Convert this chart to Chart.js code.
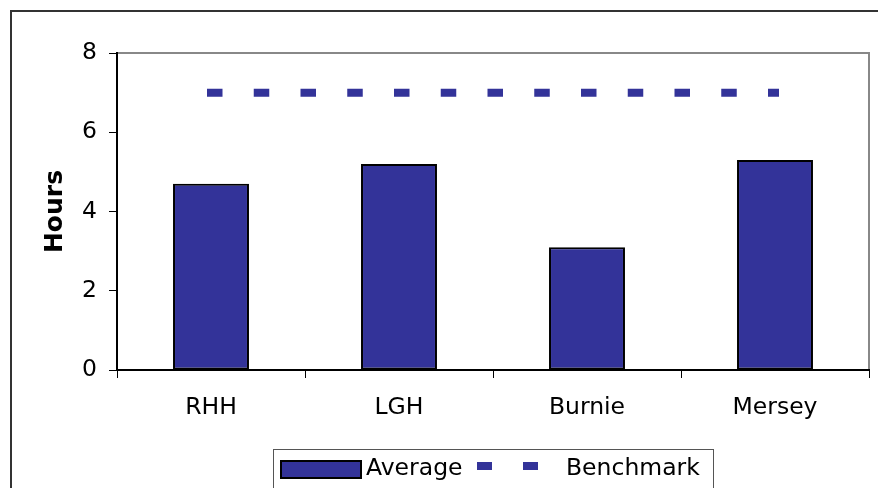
<!DOCTYPE html>
<html>
<head>
<meta charset="utf-8">
<script src="https://cdn.jsdelivr.net/npm/chart.js@4/dist/chart.umd.min.js"></script>
<style>
  html, body { margin: 0; padding: 0; background: #fff; }
  #wrap { width: 878px; height: 488px; position: relative; }
</style>
</head>
<body>
<div id="wrap"><canvas id="c" width="878" height="488"></canvas></div>
<script>
// Hospitals compared
const categories = ['RHH', 'LGH', 'Burnie', 'Mersey'];
// Average hours per hospital
const averageHours = [4.7, 5.2, 3.1, 5.3];
// Benchmark hours (flat target)
const benchmarkHours = [7, 7, 7, 7];
// Y axis ticks
const yTicks = [0, 2, 4, 6, 8];

const FONT = "'DejaVu Sans', Verdana, sans-serif";
const BAR_COLOR = '#333399';

// Frame around the whole figure plus the grey top/right edge of the plot
const framePlugin = {
  id: 'frame',
  beforeDraw(chart) {
    const ctx = chart.ctx;
    const a = chart.chartArea;
    ctx.save();
    ctx.strokeStyle = '#333';
    ctx.lineWidth = 2;
    ctx.strokeRect(11, 11, chart.width + 20, chart.height + 20);
    ctx.strokeStyle = '#888';
    ctx.lineWidth = 2;
    ctx.beginPath();
    ctx.moveTo(a.left, a.top);
    ctx.lineTo(a.right, a.top);
    ctx.lineTo(a.right, a.bottom);
    ctx.stroke();
    ctx.restore();
  }
};

// Boxed legend at the bottom
const boxLegendPlugin = {
  id: 'boxLegend',
  afterDraw(chart) {
    const ctx = chart.ctx;
    const bars = chart.data.datasets[0];
    const bench = chart.data.datasets[1];
    ctx.save();
    ctx.strokeStyle = '#555';
    ctx.lineWidth = 1;
    ctx.strokeRect(273.5, 449.5, 440, 60);

    // bar swatch
    ctx.fillStyle = bars.backgroundColor;
    ctx.fillRect(281, 461, 80, 17);
    ctx.strokeStyle = '#000';
    ctx.lineWidth = 2;
    ctx.strokeRect(281, 461, 80, 17);

    ctx.font = '23.5px ' + FONT;
    ctx.fillStyle = '#000';
    ctx.textBaseline = 'middle';
    ctx.textAlign = 'left';
    ctx.fillText(bars.label, 366, 469);

    // dashed line swatch
    ctx.fillStyle = bench.borderColor;
    ctx.fillRect(477, 462, 15, 8);
    ctx.fillRect(523, 462, 15, 8);

    ctx.fillStyle = '#000';
    ctx.fillText(bench.label, 566, 469);
    ctx.restore();
  }
};

new Chart(document.getElementById('c'), {
  data: {
    labels: categories,
    datasets: [
      {
        type: 'bar',
        label: 'Average',
        data: averageHours,
        backgroundColor: BAR_COLOR,
        borderColor: '#000',
        borderWidth: 2,
        borderSkipped: false,
        categoryPercentage: 1,
        barPercentage: 0.404,
        order: 1
      },
      {
        type: 'line',
        label: 'Benchmark',
        data: benchmarkHours,
        borderColor: BAR_COLOR,
        backgroundColor: BAR_COLOR,
        borderWidth: 8,
        borderDash: [7.5, 39.25],
        borderCapStyle: 'square',
        pointRadius: 0,
        fill: false,
        order: 0
      }
    ]
  },
  options: {
    responsive: false,
    animation: false,
    devicePixelRatio: 1,
    layout: { padding: { left: 0, top: 53, right: 9, bottom: 0 } },
    plugins: {
      legend: { display: false },
      tooltip: { enabled: false }
    },
    scales: {
      x: {
        offset: true,
        grid: {
          offset: true,
          drawOnChartArea: false,
          drawTicks: true,
          tickLength: 8,
          color: '#000',
          lineWidth: 1
        },
        border: { display: true, color: '#000', width: 2 },
        ticks: {
          font: { family: FONT, size: 23.5 },
          color: '#000',
          padding: 16,
          maxRotation: 0
        },
        afterFit(scale) { scale.height = 118; }
      },
      y: {
        min: 0,
        max: 8,
        afterBuildTicks(scale) { scale.ticks = yTicks.map(v => ({ value: v })); },
        grid: {
          drawOnChartArea: false,
          drawTicks: true,
          tickLength: 8,
          color: '#000',
          lineWidth: 1
        },
        border: { display: true, color: '#000', width: 2 },
        ticks: {
          font: { family: FONT, size: 23.5 },
          color: '#000',
          padding: 12
        },
        title: {
          display: true,
          text: 'Hours',
          font: { family: FONT, size: 25, weight: 'bold' },
          color: '#000',
          padding: { top: 40, bottom: 0 }
        },
        afterFit(scale) { scale.width = 117; }
      }
    }
  },
  plugins: [framePlugin, boxLegendPlugin]
});
</script>
</body>
</html>
